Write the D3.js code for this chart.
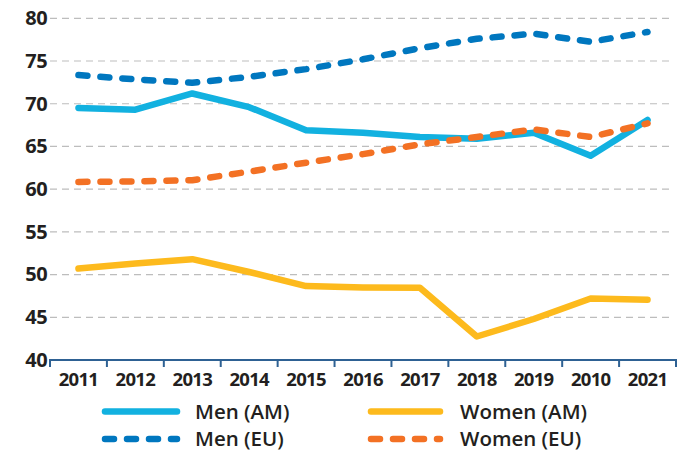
<!DOCTYPE html>
<html><head><meta charset="utf-8">
<script src="https://cdn.jsdelivr.net/npm/d3@7/dist/d3.min.js"></script>
<style>
html,body{margin:0;padding:0;background:#fff;}
svg{display:block;}
text{font-family:"Open Sans",sans-serif;fill:#231f20;}
</style></head>
<body>
<svg id="chart" width="685" height="453"></svg>
<script>
const categories = ["2011","2012","2013","2014","2015","2016","2017","2018","2019","2010","2021"];
const menAM   = [69.5, 69.3, 71.2, 69.6, 66.9, 66.6, 66.1, 65.9, 66.6, 63.9, 68.1];
const menEU   = [73.35, 72.85, 72.45, 73.15, 74.05, 75.2, 76.5, 77.6, 78.2, 77.25, 78.4];
const womenAM = [50.7, 51.3, 51.8, 50.3, 48.65, 48.5, 48.45, 42.75, 44.8, 47.2, 47.05];
const womenEU = [60.85, 60.9, 61.05, 62.05, 63.1, 64.1, 65.25, 66.1, 67.0, 66.1, 67.7];
const yTicks  = [40, 45, 50, 55, 60, 65, 70, 75, 80];
const seriesNames = ["Men (AM)", "Women (AM)", "Men (EU)", "Women (EU)"];

const series = [
  {name: seriesNames[0], values: menAM,   color: "#12b1e0", dashed: false},
  {name: seriesNames[1], values: womenAM, color: "#fdba1d", dashed: false},
  {name: seriesNames[2], values: menEU,   color: "#0077bf", dashed: true},
  {name: seriesNames[3], values: womenEU, color: "#f37124", dashed: true}
];

const svg = d3.select("#chart");
const mLeft = 50, mRight = 676, mTop = 18.3, mBottom = 360;

const x = d3.scaleBand().domain(categories).range([mLeft, mRight]).padding(0);
const y = d3.scaleLinear().domain([40, 80]).range([mBottom, mTop]);

// gridlines
svg.append("g").selectAll("line").data(yTicks.filter(d => d > 40)).join("line")
  .attr("x1", mLeft).attr("x2", mRight - 4)
  .attr("y1", d => y(d)).attr("y2", d => y(d))
  .attr("stroke", "#bdbdbd").attr("stroke-width", 1.2)
  .attr("stroke-dasharray", "7,5");

// y axis labels
const yAxis = svg.append("g").attr("transform", `translate(${mLeft},0)`)
  .call(d3.axisLeft(y).tickValues(yTicks).tickSize(0).tickPadding(3));
yAxis.select(".domain").remove();
yAxis.selectAll("text").attr("font-family", "Open Sans, sans-serif")
  .attr("font-size", 20).attr("font-weight", 700).attr("fill", "#231f20")
  .attr("letter-spacing", "-0.6");

// x axis
const xAxis = svg.append("g").attr("transform", `translate(0,${mBottom})`)
  .call(d3.axisBottom(x).tickSize(0).tickPadding(13));
xAxis.select(".domain").attr("stroke", "#2e6193").attr("stroke-width", 2)
  .attr("d", `M${mLeft},7V0H${mRight}V7`);
xAxis.selectAll("text").attr("font-family", "Open Sans, sans-serif")
  .attr("font-size", 18.5).attr("font-weight", 700).attr("fill", "#231f20")
  .attr("letter-spacing", "-0.7");
// tick marks at band boundaries
svg.append("g").selectAll("line").data(categories.slice(1)).join("line")
  .attr("x1", d => x(d)).attr("x2", d => x(d))
  .attr("y1", mBottom).attr("y2", mBottom + 7)
  .attr("stroke", "#2e6193").attr("stroke-width", 2);

// lines
const line = d3.line()
  .x((d, i) => x(categories[i]) + x.bandwidth() / 2)
  .y(d => y(d));

svg.append("g").selectAll("path").data(series).join("path")
  .attr("d", d => line(d.values))
  .attr("fill", "none")
  .attr("stroke", d => d.color)
  .attr("stroke-width", 6.5)
  .attr("stroke-linejoin", "round")
  .attr("stroke-linecap", "round")
  .attr("stroke-dasharray", d => d.dashed ? "9,13" : null);

// legend
const legendPos = [
  {x1: 105, x2: 177, tx: 195, ty: 411.5},
  {x1: 371, x2: 440, tx: 460, ty: 411.5},
  {x1: 105, x2: 177, tx: 195, ty: 439},
  {x1: 371, x2: 440, tx: 460, ty: 439}
];
const lg = svg.append("g");
series.forEach((s, i) => {
  const p = legendPos[i];
  lg.append("line").attr("x1", p.x1).attr("x2", p.x2)
    .attr("y1", p.ty).attr("y2", p.ty)
    .attr("stroke", s.color).attr("stroke-width", 6.5)
    .attr("stroke-linecap", "round")
    .attr("stroke-dasharray", s.dashed ? "9,13" : null);
  lg.append("text").attr("x", p.tx).attr("y", p.ty)
    .attr("dy", "0.35em")
    .attr("font-size", 20.5).attr("font-weight", 600)
    .text(s.name);
});
</script>
</body></html>
